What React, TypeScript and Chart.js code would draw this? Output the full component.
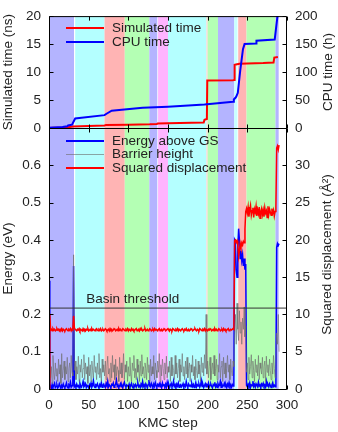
import React, { useEffect, useRef } from 'react';
import { Chart, registerables } from 'chart.js';
Chart.register(...registerables);

const W = 338;
const H = 432;
const FONT = "'Liberation Sans', Arial, Helvetica, sans-serif";
const FS = 13.5;
const TXT = '#222';

// ---------- top panel ----------
const simSteps = [0, 5, 20, 26, 30, 50, 70, 72, 100, 127, 136, 137, 150, 180, 195, 196, 199, 199.5, 232, 233.5, 234, 237, 240, 270, 283, 284, 288.5];
const simNs = [0, 0.05, 0.1, 0.2, 0.25, 0.35, 0.45, 0.55, 0.6, 0.65, 0.7, 0.8, 0.85, 0.95, 1.0, 1.45, 1.6, 8.5, 8.55, 8.6, 11.3, 11.4, 11.5, 11.6, 11.7, 12.6, 12.7];
const cpuSteps = [0, 17, 23, 24, 29, 33, 70, 72, 79, 95, 118, 150, 196, 232, 233, 235, 236, 238, 241, 244.5, 246.5, 261, 261.5, 284.5, 288, 289];
const cpuHours = [0.5, 2, 3, 4.5, 6, 17, 23, 25, 31, 33, 36, 38, 42, 47, 51, 54, 56, 63, 102, 141, 150, 151, 156, 158, 200, 210];

// ---------- bottom panel (index = KMC step) ----------
const energyMeV = [
  290, 3, 8, 2, 12, 5, 9, 15, 4, 7,
  11, 3, 6, 14, 8, 2, 10, 5, 13, 7,
  4, 9, 16, 6, 3, 11, 8, 18, 5, 9,
  12, 330, 6, 10, 4, 13, 7, 9, 3, 15,
  8, 5, 11, 20, 6, 9, 14, 4, 10, 7,
  3, 12, 8, 16, 5, 10, 22, 7, 4, 11,
  9, 14, 6, 3, 12, 8, 17, 5, 10, 13,
  7, 4, 15, 9, 21, 6, 11, 8, 3, 12,
  10, 16, 5, 9, 13, 24, 7, 11, 4, 8,
  14, 6, 10, 3, 12, 18, 8, 5, 11, 9,
  6, 13, 4, 9, 15, 7, 3, 11, 8, 12,
  5, 10, 16, 6, 9, 4, 13, 8, 20, 7,
  11, 5, 14, 9, 3, 12, 24, 8, 6, 15,
  10, 4, 13, 7, 17, 9, 5, 12, 8, 14,
  6, 10, 3, 16, 9, 11, 7, 13, 5, 18,
  8, 12, 4, 10, 15, 6, 9, 21, 7, 11,
  3, 13, 8, 16, 5, 10, 12, 6, 9, 14,
  4, 11, 7, 20, 9, 5, 13, 8, 10, 6,
  15, 7, 12, 4, 9, 17, 6, 11, 8, 13,
  5, 10, 22, 7, 12, 4, 9, 14, 6, 11,
  8, 16, 5, 10, 13, 7, 3, 12, 9, 18,
  6, 11, 4, 14, 8, 10, 20, 5, 12, 7,
  9, 15, 6, 11, 4, 13, 8, 17, 7, 10,
  5, 12, 8, 14, 400, 395, 320, 300, 380, 430,
  400, 350, 370, 345, 360, 330, 350, 320, 335, 10,
  6, 13, 8, 16, 4, 11, 9, 21, 7, 12,
  5, 14, 10, 6, 18, 8, 11, 4, 13, 9,
  15, 7, 10, 5, 20, 8, 12, 6, 14, 9,
  4, 11, 17, 7, 10, 6, 13, 380, 390, 385,
  390,
];
const barrierMeV = [
  20, 85, 30, 60, 15, 90, 45, 25, 70, 35,
  55, 20, 80, 40, 65, 15, 95, 30, 50, 75,
  25, 60, 40, 85, 20, 55, 70, 30, 90, 45,
  35, 360, 50, 75, 25, 60, 40, 88, 20, 65,
  45, 80, 30, 55, 92, 25, 70, 40, 60, 15,
  85, 35, 65, 20, 75, 50, 30, 90, 45, 60,
  25, 70, 40, 95, 30, 55, 20, 80, 45, 65,
  35, 75, 25, 60, 88, 40, 55, 20, 70, 30,
  90, 45, 65, 25, 80, 35, 60, 50, 20, 85,
  40, 70, 30, 55, 95, 25, 65, 45, 75, 20,
  60, 35, 85, 40, 20, 70, 50, 90, 30, 55,
  25, 80, 45, 65, 20, 75, 35, 92, 40, 60,
  30, 70, 55, 25, 85, 45, 65, 20, 80, 35,
  60, 40, 90, 25, 70, 50, 30, 75, 45, 95,
  20, 65, 35, 80, 55, 25, 70, 40, 88, 30,
  60, 45, 75, 20, 85, 35, 65, 50, 25, 90,
  40, 70, 30, 55, 80, 20, 65, 45, 95, 35,
  60, 25, 75, 40, 85, 30, 55, 70, 20, 65,
  45, 90, 35, 60, 25, 80, 50, 30, 75, 40,
  65, 20, 85, 45, 70, 35, 92, 55, 200, 40,
  75, 30, 60, 85, 25, 50, 70, 40, 90, 35,
  55, 80, 25, 65, 45, 95, 30, 60, 75, 20,
  85, 40, 70, 30, 55, 90, 45, 65, 25, 80,
  50, 35, 75, 60, 150, 200, 120, 230, 160, 130,
  210, 150, 180, 120, 190, 160, 220, 140, 170, 45,
  70, 25, 85, 40, 60, 92, 30, 75, 50, 20,
  80, 45, 65, 35, 90, 25, 70, 55, 40, 85,
  30, 60, 75, 20, 88, 45, 65, 35, 80, 50,
  25, 70, 40, 90, 55, 30, 75, 150, 120, 200,
  100,
];
const sqDispTenths = [
  0, 101, 79, 80, 78, 81, 79, 80, 78, 79,
  81, 79, 80, 78, 80, 79, 81, 78, 80, 79,
  78, 80, 81, 79, 78, 80, 79, 81, 78, 80,
  79, 98, 82, 80, 79, 78, 80, 79, 81, 78,
  80, 79, 78, 81, 79, 80, 78, 80, 79, 81,
  78, 79, 80, 78, 81, 79, 80, 79, 78, 80,
  81, 79, 78, 80, 79, 81, 78, 79, 80, 78,
  79, 81, 80, 78, 79, 80, 78, 81, 79, 80,
  78, 79, 81, 80, 78, 79, 80, 78, 81, 79,
  80, 78, 79, 81, 80, 79, 78, 80, 79, 81,
  78, 80, 79, 78, 81, 79, 80, 78, 79, 80,
  81, 78, 79, 80, 78, 81, 79, 80, 78, 79,
  80, 81, 78, 79, 80, 78, 79, 81, 80, 78,
  79, 80, 78, 81, 79, 80, 79, 78, 80, 81,
  78, 79, 80, 78, 79, 81, 80, 78, 79, 80,
  81, 79, 78, 80, 79, 78, 81, 80, 79, 78,
  80, 79, 81, 78, 80, 79, 78, 80, 81, 79,
  78, 80, 79, 81, 78, 79, 80, 78, 79, 81,
  80, 78, 79, 80, 81, 79, 78, 80, 79, 78,
  81, 80, 79, 78, 80, 79, 81, 78, 80, 79,
  78, 80, 79, 81, 80, 78, 79, 80, 78, 81,
  79, 80, 78, 79, 81, 80, 78, 79, 80, 78,
  81, 79, 80, 78, 79, 80, 81, 78, 79, 80,
  79, 80, 81, 80, 199, 200, 197, 199, 192, 178,
  185, 195, 190, 196, 193, 198, 196, 215, 238, 242,
  236, 244, 231, 240, 246, 233, 239, 243, 230, 241,
  237, 245, 232, 240, 235, 244, 229, 238, 242, 234,
  240, 231, 243, 236, 239, 230, 245, 234, 241, 237,
  233, 242, 236, 240, 232, 238, 244, 323, 326, 321,
  327,
];
const basinThreshold = 0.217;

// ---------- basin bands (KMC step ranges) ----------
const bandStart = [0, 33, 70, 95.5, 126.5, 137.5, 150, 198.5, 200, 213, 233.5, 238.5, 249, 285.5];
const bandEnd = [31.5, 70, 95.5, 126.5, 136.5, 150, 198.5, 200, 213, 233.5, 237.5, 249, 285.5, 289.5];
const bandColor = ['#b4b4ff', '#b4ffff', '#ffb4b4', '#b4ffb4', '#b4b4ff', '#ffb4ff', '#b4ffff', '#ffd0d0', '#b4ffb4', '#b4b4ff', '#c8ffff', '#ffb4b4', '#b4ffb4', '#b4b4ff'];

const xTickValues = [0, 50, 100, 150, 200, 250, 300];

const BARRIER_COLOR = 'rgba(110,110,110,0.62)';

const pts = (xs: number[], ys: number[], k = 1) => ys.map((y, i) => ({ x: xs[i], y: y * k }));
const idx = (arr: number[]) => arr.map((_, i) => i);

function vText(ctx: CanvasRenderingContext2D, text: string, x: number, y: number) {
  ctx.save();
  ctx.translate(x, y);
  ctx.rotate(-Math.PI / 2);
  ctx.textAlign = 'center';
  ctx.textBaseline = 'middle';
  ctx.fillText(text, 0, 0);
  ctx.restore();
}

function legendRow(ctx: CanvasRenderingContext2D, a: any, dy: number, color: string, lw: number, label: string) {
  ctx.save();
  ctx.strokeStyle = color;
  ctx.lineWidth = lw;
  ctx.beginPath();
  ctx.moveTo(a.left + 17, a.top + dy);
  ctx.lineTo(a.left + 55, a.top + dy);
  ctx.stroke();
  ctx.fillStyle = TXT;
  ctx.font = `${FS}px ${FONT}`;
  ctx.textAlign = 'left';
  ctx.textBaseline = 'middle';
  ctx.fillText(label, a.left + 63, a.top + dy);
  ctx.restore();
}

function decoPlugin(kind: 'top' | 'bottom') {
  return {
    id: 'deco_' + kind,
    beforeDatasetsDraw(chart: any) {
      const { ctx, chartArea: a, scales } = chart;
      const x = scales.x;
      ctx.save();
      for (let i = 0; i < bandStart.length; i++) {
        const x0 = x.getPixelForValue(bandStart[i]);
        const x1 = x.getPixelForValue(bandEnd[i]);
        ctx.fillStyle = bandColor[i];
        ctx.fillRect(x0, a.top, x1 - x0, a.bottom - a.top);
      }
      ctx.restore();
    },
    afterDraw(chart: any) {
      const { ctx, chartArea: a, scales } = chart;
      ctx.save();
      ctx.strokeStyle = '#000';
      ctx.lineWidth = 1;
      ctx.beginPath();
      const L = a.left + 0.5, R = a.right - 0.5, T = a.top + 0.5, B = a.bottom + 0.5;
      ctx.moveTo(L, T); ctx.lineTo(R, T); ctx.lineTo(R, B); ctx.lineTo(L, B); ctx.closePath();
      const tl = 4;
      for (const v of xTickValues) {
        const px = Math.round(scales.x.getPixelForValue(v)) + 0.5;
        ctx.moveTo(px, B); ctx.lineTo(px, B - tl);
        ctx.moveTo(px, T); ctx.lineTo(px, T + tl);
      }
      const ly = kind === 'top' ? scales.yS : scales.yE;
      const ry = kind === 'top' ? scales.yC : scales.yD;
      for (const t of ly.ticks) {
        const py = Math.round(ly.getPixelForValue(t.value)) + 0.5;
        ctx.moveTo(L, py); ctx.lineTo(L + tl, py);
      }
      for (const t of ry.ticks) {
        const py = Math.round(ry.getPixelForValue(t.value)) + 0.5;
        ctx.moveTo(R, py); ctx.lineTo(R - tl, py);
      }
      ctx.stroke();
      ctx.fillStyle = TXT;
      ctx.font = `${FS}px ${FONT}`;
      if (kind === 'top') {
        legendRow(ctx, a, 12, '#ff0000', 2, 'Simulated time');
        legendRow(ctx, a, 26, '#0000ff', 2, 'CPU time');
        vText(ctx, 'Simulated time (ns)', 8, (a.top + a.bottom) / 2);
        vText(ctx, 'CPU time (h)', 328, (a.top + a.bottom) / 2);
      } else {
        legendRow(ctx, a, 13, '#0000ff', 2, 'Energy above GS');
        legendRow(ctx, a, 26.5, BARRIER_COLOR, 1, 'Barrier height');
        legendRow(ctx, a, 40, '#ff0000', 2, 'Squared displacement');
        vText(ctx, 'Energy (eV)', 8, (a.top + a.bottom) / 2);
        vText(ctx, 'Squared displacement (Å²)', 327, (a.top + a.bottom) / 2 - 4);
        ctx.textAlign = 'center';
        ctx.textBaseline = 'middle';
        ctx.fillText('KMC step', (a.left + a.right) / 2, 423);
        ctx.textAlign = 'left';
        ctx.fillText('Basin threshold', scales.x.getPixelForValue(47), scales.yE.getPixelForValue(basinThreshold) - 9);
      }
      ctx.restore();
    },
  };
}

const tickFont = { family: FONT, size: FS };

function yAxis(position: 'left' | 'right', max: number, step: number, width: number, fmt: (v: number) => string) {
  return {
    type: 'linear' as const,
    position,
    min: 0,
    max,
    grid: { display: false, drawTicks: false },
    border: { display: false },
    ticks: {
      stepSize: step,
      padding: 8,
      color: TXT,
      font: tickFont,
      autoSkip: false,
      callback: (v: any) => fmt(Number(v)),
    },
    afterFit: (s: any) => { s.width = width; },
  };
}

function topConfig(): any {
  return {
    type: 'line',
    data: {
      datasets: [
        { label: 'Simulated time', data: pts(simSteps, simNs), yAxisID: 'yS', borderColor: '#ff0000', borderWidth: 2, pointRadius: 0, tension: 0, order: 1 },
        { label: 'CPU time', data: pts(cpuSteps, cpuHours), yAxisID: 'yC', borderColor: '#0000ff', borderWidth: 2, pointRadius: 0, tension: 0, order: 0 },
      ],
    },
    options: {
      animation: false,
      responsive: false,
      devicePixelRatio: 1,
      layout: { padding: { top: 8, bottom: H - 128, left: 0, right: 0 } },
      plugins: { legend: { display: false }, tooltip: { enabled: false } },
      scales: {
        x: { type: 'linear', min: 0, max: 300, display: false },
        yS: yAxis('left', 20, 5, 49, (v) => String(Math.round(v))),
        yC: yAxis('right', 200, 50, 51, (v) => String(Math.round(v))),
      },
    },
    plugins: [decoPlugin('top')],
  };
}

function botConfig(): any {
  const steps = idx(energyMeV);
  return {
    type: 'line',
    data: {
      datasets: [
        { label: 'Energy above GS', data: pts(steps, energyMeV, 0.001), yAxisID: 'yE', borderColor: '#0000ff', borderWidth: 1.5, pointRadius: 0, tension: 0, order: 3 },
        { label: 'Barrier height', data: pts(steps, barrierMeV, 0.001), yAxisID: 'yE', borderColor: BARRIER_COLOR, borderWidth: 1, pointRadius: 0, tension: 0, order: 2 },
        { label: 'Squared displacement', data: pts(steps, sqDispTenths, 0.1), yAxisID: 'yD', borderColor: '#ff0000', borderWidth: 1.5, pointRadius: 0, tension: 0, order: 1 },
        { label: 'Basin threshold', data: [{ x: 0, y: basinThreshold }, { x: 300, y: basinThreshold }], yAxisID: 'yE', borderColor: '#333', borderWidth: 1, pointRadius: 0, tension: 0, order: 0 },
      ],
    },
    options: {
      animation: false,
      responsive: false,
      devicePixelRatio: 1,
      layout: { padding: { top: 128, bottom: 0, left: 0, right: 0 } },
      plugins: { legend: { display: false }, tooltip: { enabled: false } },
      scales: {
        x: {
          type: 'linear',
          min: 0,
          max: 300,
          grid: { display: false, drawTicks: false },
          border: { display: false },
          ticks: { stepSize: 50, padding: 8, color: TXT, font: tickFont, maxRotation: 0, autoSkip: false },
          afterFit: (s: any) => { s.height = H - 389; },
        },
        yE: yAxis('left', 0.7, 0.1, 49, (v) => (v > 0.65 ? '' : v === 0 ? '0' : v.toFixed(1))),
        yD: yAxis('right', 35, 5, 51, (v) => (v > 32 ? '' : String(Math.round(v)))),
      },
    },
    plugins: [decoPlugin('bottom')],
  };
}

export default function App() {
  const topRef = useRef<HTMLCanvasElement>(null);
  const botRef = useRef<HTMLCanvasElement>(null);
  useEffect(() => {
    document.body.style.margin = '0';
    Chart.defaults.font.family = FONT;
    const bot = new Chart(botRef.current!, botConfig());
    const top = new Chart(topRef.current!, topConfig());
    return () => {
      top.destroy();
      bot.destroy();
    };
  }, []);
  return (
    <div style={{ position: 'relative', width: W, height: H }}>
      <canvas ref={botRef} width={W} height={H} style={{ position: 'absolute', left: 0, top: 0 }} />
      <canvas ref={topRef} width={W} height={H} style={{ position: 'absolute', left: 0, top: 0 }} />
    </div>
  );
}
